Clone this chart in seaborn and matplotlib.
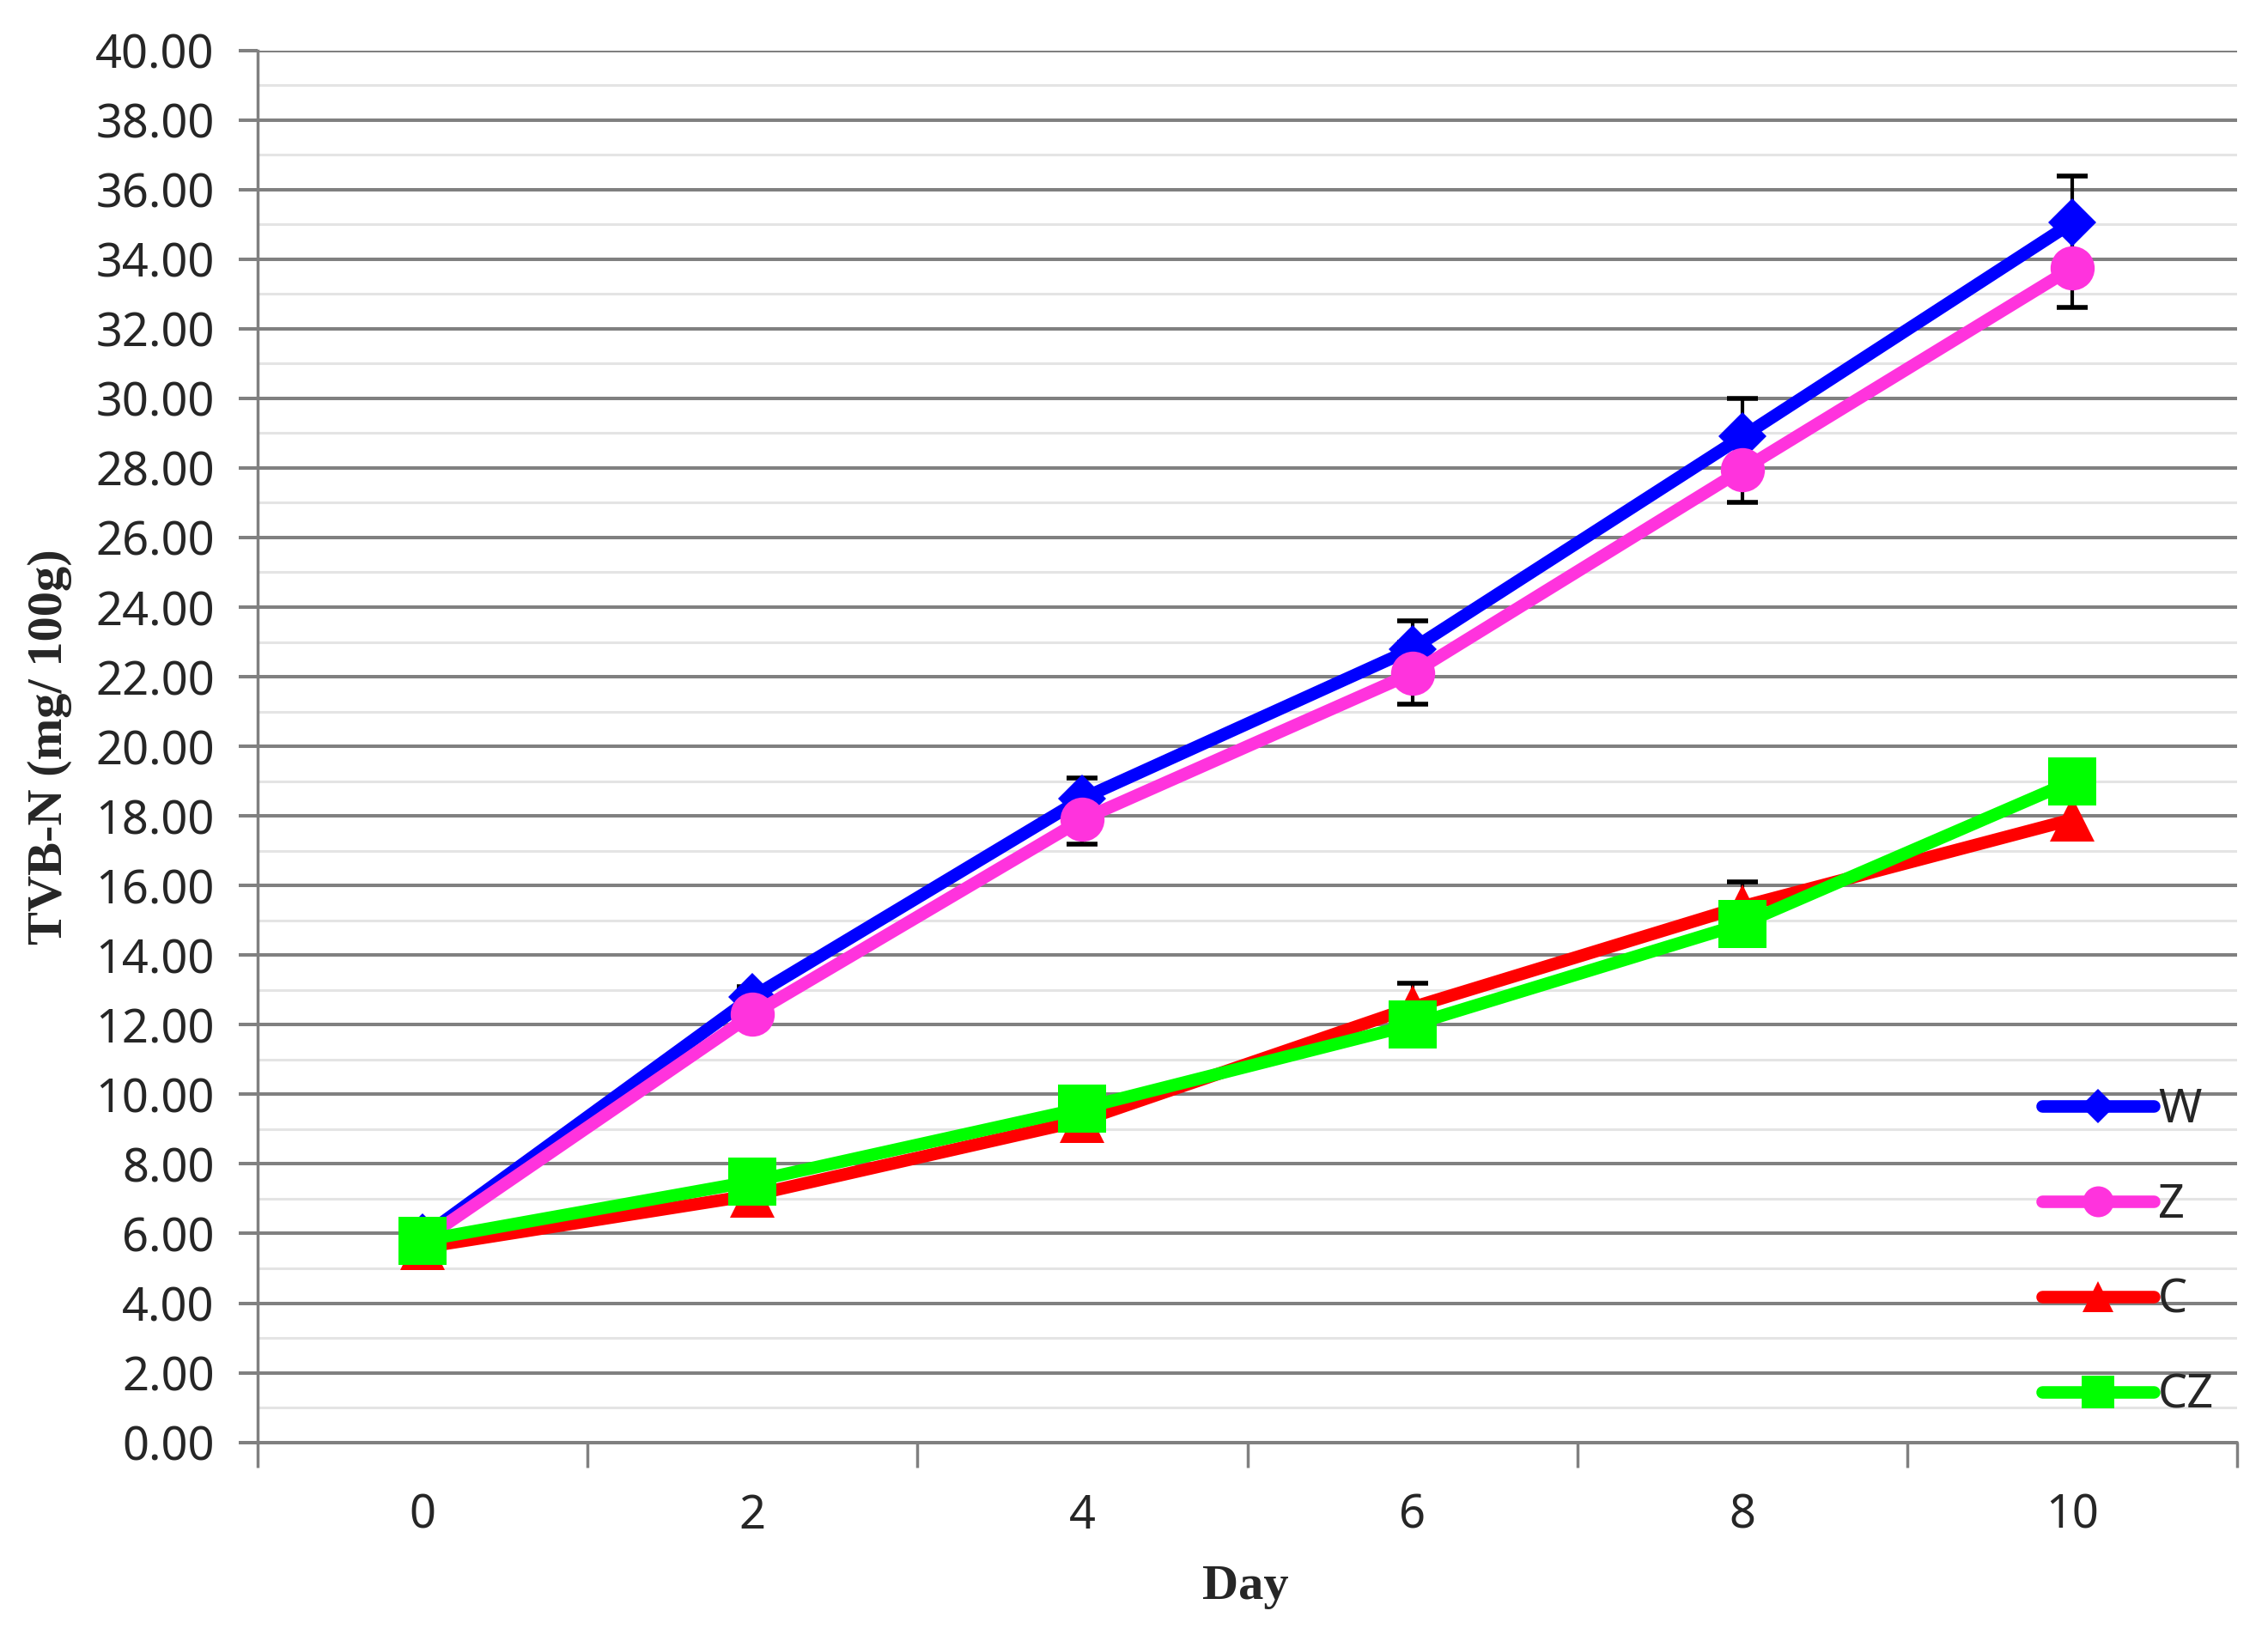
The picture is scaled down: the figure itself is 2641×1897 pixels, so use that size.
import numpy as np
import pandas as pd
import matplotlib.pyplot as plt
import seaborn as sb
from matplotlib.ticker import MultipleLocator, FixedLocator

# Data
days = [0, 2, 4, 6, 8, 10]
w_vals = [5.9, 12.8, 18.5, 22.8, 28.9, 35.05]
w_err = [0.2, 0.3, 0.6, 0.8, 1.1, 1.35]
z_vals = [5.8, 12.3, 17.9, 22.1, 27.95, 33.75]
z_err = [0.2, 0.3, 0.7, 0.9, 0.95, 1.15]
c_vals = [5.6, 7.1, 9.25, 12.5, 15.4, 17.9]
c_err = [0.2, 0.3, 0.3, 0.7, 0.7, 0.55]
cz_vals = [5.8, 7.5, 9.6, 12.0, 14.9, 19.0]
cz_err = [0.2, 0.2, 0.3, 0.3, 0.4, 0.4]

y_ticks = np.arange(0, 41, 2)
y_labels = ['%.2f' % v for v in y_ticks]

series = [
    ('W', w_vals, w_err, '#0000ff', 'D', 29),
    ('Z', z_vals, z_err, '#ff33dd', 'o', 37),
    ('C', c_vals, c_err, '#ff0000', '^', 37),
    ('CZ', cz_vals, cz_err, '#00ff00', 's', 40),
]

grid_major = '#808080'
grid_minor = '#e4e4e4'

sb.set_style('white')
plt.rcParams['font.family'] = ['Noto Sans', 'DejaVu Sans']

fig = plt.figure(figsize=(26.41, 18.97), dpi=100)
ax = fig.add_axes([0.1135, 0.1146, 0.873, 0.8545])

# Error bars sit underneath the lines/markers
for name, vals, err, col, mk, ms in series:
    ax.errorbar(days, vals, yerr=err, fmt='none', ecolor='black',
                elinewidth=3, capsize=13, capthick=4, zorder=2)

for i, (name, vals, err, col, mk, ms) in enumerate(series):
    df = pd.DataFrame({'Day': days, 'TVB': vals})
    sb.lineplot(data=df, x='Day', y='TVB', ax=ax, color=col, marker=mk,
                markersize=ms, markeredgewidth=0, markeredgecolor=col,
                linewidth=10.5, label=name, zorder=3 + i)

ax.set_xlim(-1, 11)
ax.set_ylim(0, 40)
ax.set_xticks(days)
ax.set_xticklabels([str(d) for d in days])
ax.xaxis.set_minor_locator(FixedLocator(np.arange(-1, 12, 2)))
ax.set_yticks(y_ticks)
ax.set_yticklabels(y_labels)
ax.yaxis.set_minor_locator(MultipleLocator(1))

# Excel style gridlines
for v in np.arange(1, 40, 2):
    ax.axhline(v, color=grid_minor, linewidth=2.2, zorder=0)
for v in y_ticks[1:]:
    ax.axhline(v, color=grid_major, linewidth=2.9, zorder=1)
ax.axhline(0, color=grid_major, linewidth=2.9, zorder=1, clip_on=False)

for s in ['top', 'right', 'bottom']:
    ax.spines[s].set_visible(False)
ax.spines['left'].set_color(grid_major)
ax.spines['left'].set_linewidth(2.5)

ax.tick_params(axis='y', which='major', direction='out', length=16, width=2.9,
               color=grid_major, labelsize=39, pad=20, left=True)
ax.tick_params(axis='y', which='minor', length=0)
ax.tick_params(axis='x', which='major', length=0, labelsize=39, pad=42)
ax.tick_params(axis='x', which='minor', direction='out', length=21, width=2.5,
               color=grid_major, bottom=True)

ax.set_xlabel('')
ax.set_ylabel('')
fig.text(0.022, 0.5416, 'TVB-N (mg/ 100g)', rotation=90, ha='center', va='center',
         fontsize=42, fontweight='bold', family='Liberation Serif')
fig.text(0.549, 0.0258, 'Day', ha='center', va='center',
         fontsize=42, fontweight='bold', family='Liberation Serif')

ax.legend(loc='lower right', bbox_to_anchor=(1.0, 0.0), frameon=False,
          fontsize=39, markerscale=0.7, handlelength=2.4, handletextpad=0.1,
          labelspacing=1.03, borderaxespad=0.1)

fig.savefig('out.png', dpi=100, facecolor='white')
